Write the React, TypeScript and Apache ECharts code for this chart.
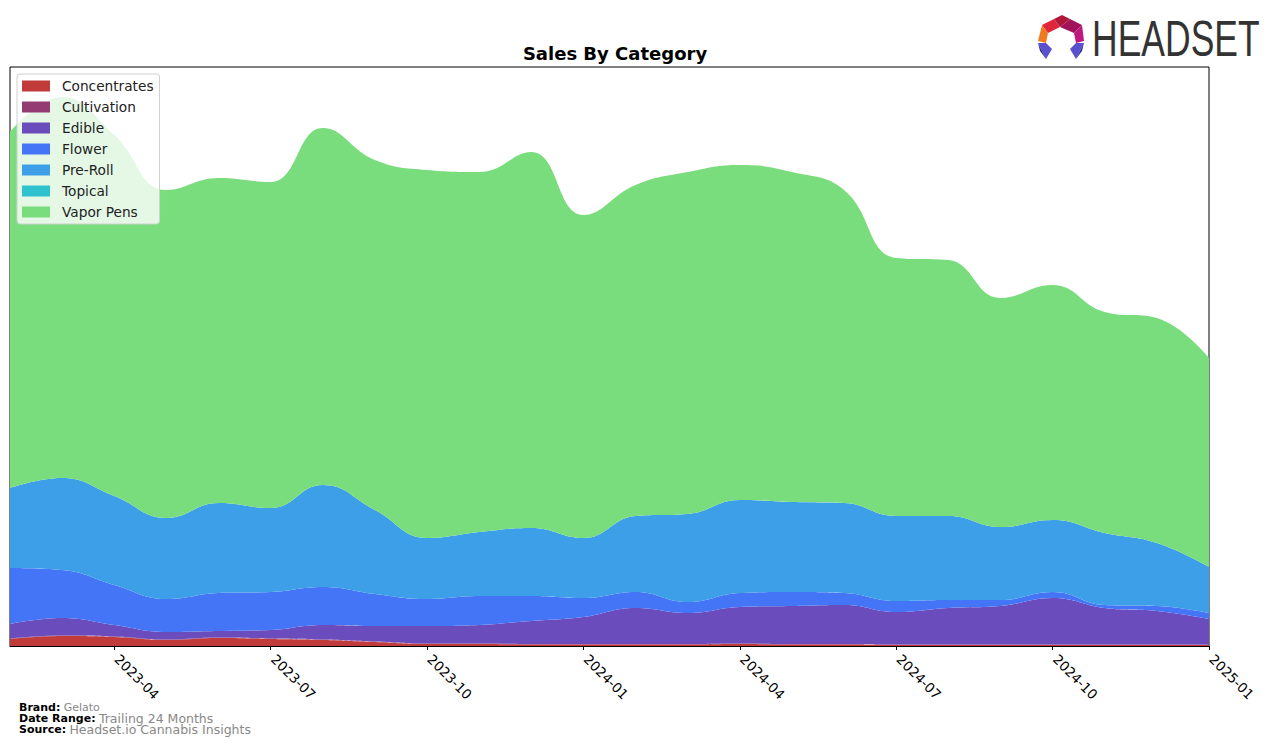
import React, { useEffect, useRef } from "react";
import * as echarts from "echarts";

const months = [
  "2023-02","2023-03","2023-04","2023-05","2023-06","2023-07","2023-08","2023-09",
  "2023-10","2023-11","2023-12","2024-01","2024-02","2024-03","2024-04","2024-05",
  "2024-06","2024-07","2024-08","2024-09","2024-10","2024-11","2024-12","2025-01",
];
const tickLabels = ["2023-04","2023-07","2023-10","2024-01","2024-04","2024-07","2024-10","2025-01"];

const concentrates = [7,10,9,6,8,7,6,4,2,2,1.5,1.5,1.5,1.5,2,1.5,1.5,1,1,1,1,1,1,1];
const cultivation = [0.5,0.5,0.5,0.5,0.5,0.5,0.5,0.5,0.5,0.5,0.5,0.5,0.5,0.5,0.5,0.5,0.5,0.5,0.5,0.5,0.5,0.5,0.5,0.5];
const edible = [14.5,17.5,11.5,7.5,6.5,8.5,14.5,15.5,17.5,18.5,23,27,36,31,36.5,38,39,32.5,36.5,38.5,46.5,36.5,33.5,25.5];
const flower = [56,48,40,33,38,38,38,32,27,29,25,19,16,11,14,14,12,11,8,6,6,3,5,6];
const preRoll = [80,92,89,81,90,84,102,84,61,64,68,60,76,88,93,90,90,85,84,73,72,72,63,46];
const topical = [0,0,0,0,0,0,0,0,0,0,0,0,0,0,0,0,0,0,0,0,0,0,0,0];
const vaporPens = [356,381,361,328,325,326,357,350,368,360,376,323,331,342,335,330,313,258,256,229,235,221,225,209];

const seriesDefs = [
  { name: "Concentrates", data: concentrates, color: "#C23B3B" },
  { name: "Cultivation", data: cultivation, color: "#953B74" },
  { name: "Edible", data: edible, color: "#6A4CBC" },
  { name: "Flower", data: flower, color: "#4575F7" },
  { name: "Pre-Roll", data: preRoll, color: "#3D9FE8" },
  { name: "Topical", data: topical, color: "#2FC3CF" },
  { name: "Vapor Pens", data: vaporPens, color: "#7ADD7D" },
];

export default function App() {
  const ref = useRef<HTMLDivElement>(null);
  useEffect(() => {
    if (!ref.current) return;
    const chart = echarts.init(ref.current, undefined, { renderer: "svg" });
    const isTick = (i: number) => tickLabels.indexOf(months[i]) >= 0;
    const richFoot = (valSize: number) => ({
      b: { fontFamily: "DejaVu Sans", fontWeight: "bold", fontSize: 11, fill: "#000", lineHeight: 11 },
      g: { fontFamily: "DejaVu Sans", fontSize: valSize, fill: "#888", lineHeight: 11 },
    });
    chart.setOption({
      animation: false,
      backgroundColor: "#ffffff",
      title: {
        text: "Sales By Category",
        left: 610,
        top: 39,
        textAlign: "center",
        textStyle: { fontFamily: "DejaVu Sans", fontWeight: "bold", fontSize: 18, color: "#000" },
      },
      legend: {
        orient: "vertical",
        left: 17,
        top: 74,
        padding: [4, 6, 4, 5],
        itemGap: 5,
        itemWidth: 28,
        itemHeight: 11,
        icon: "rect",
        backgroundColor: "rgba(255,255,255,0.8)",
        borderColor: "#d0d0d0",
        borderWidth: 1,
        borderRadius: 3,
        textStyle: { fontFamily: "DejaVu Sans", fontSize: 13.7, color: "#222", padding: [0, 0, 0, 7], lineHeight: 16 },
        data: seriesDefs.map((s) => s.name),
      },
      grid: {
        left: 10,
        right: 67,
        top: 67,
        bottom: 100,
        show: true,
        borderColor: "#000",
        borderWidth: 1,
        backgroundColor: "transparent",
        containLabel: false,
      },
      xAxis: {
        type: "category",
        data: months,
        boundaryGap: false,
        axisLine: { show: true, lineStyle: { color: "#000", width: 1 } },
        axisTick: { show: true, length: 4, lineStyle: { color: "#000" }, interval: (i: number) => isTick(i) },
        splitLine: { show: false },
        axisLabel: {
          interval: (i: number) => isTick(i),
          rotate: -45,
          fontFamily: "DejaVu Sans",
          fontSize: 13.5,
          color: "#000",
          margin: 8,
          padding: [0, 0, 0, 4],
        },
      },
      yAxis: {
        type: "value",
        min: 0,
        max: 579,
        show: false,
        splitLine: { show: false },
      },
      series: seriesDefs.map((s) => ({
        name: s.name,
        type: "line",
        stack: "total",
        smooth: 0.45,
        symbol: "none",
        color: s.color,
        lineStyle: { width: 0, color: s.color },
        areaStyle: { color: s.color, opacity: 1 },
        data: s.data,
      })),
      graphic: [
        {
          type: "text",
          left: 19,
          top: 701,
          style: { text: "{b|Brand:} {g|Gelato}", rich: richFoot(11) },
        },
        {
          type: "text",
          left: 19,
          top: 712,
          style: { text: "{b|Date Range:} {g|Trailing 24 Months}", rich: richFoot(12.5) },
        },
        {
          type: "text",
          left: 19,
          top: 723,
          style: { text: "{b|Source:} {g|Headset.io Cannabis Insights}", rich: richFoot(12.5) },
        },
        {
          type: "group",
          left: 1038,
          top: 15,
          children: [
            { type: "polygon", shape: { points: [[4, 10], [16, 4], [22, 12], [10, 18]] }, style: { fill: "#E0263A" } },
            { type: "polygon", shape: { points: [[16, 4], [24, 0], [32, 4], [22, 12]] }, style: { fill: "#B0183A" } },
            { type: "polygon", shape: { points: [[32, 4], [44, 10], [36, 18], [22, 12]] }, style: { fill: "#A0155A" } },
            { type: "polygon", shape: { points: [[44, 10], [46, 26], [38, 28], [36, 18]] }, style: { fill: "#C0167E" } },
            { type: "polygon", shape: { points: [[4, 10], [10, 18], [8, 28], [0, 26]] }, style: { fill: "#F07A20" } },
            { type: "polygon", shape: { points: [[0, 28], [8, 28], [14, 34], [8, 44]] }, style: { fill: "#5A4FCF" } },
            { type: "polygon", shape: { points: [[0, 28], [8, 44], [2, 36]] }, style: { fill: "#2C2F8A" } },
            { type: "polygon", shape: { points: [[46, 28], [38, 28], [32, 34], [38, 44]] }, style: { fill: "#5A4FCF" } },
            { type: "polygon", shape: { points: [[46, 28], [38, 44], [44, 36]] }, style: { fill: "#2C2F8A" } },
          ],
        },
        {
          type: "text",
          x: 1092,
          y: 14,
          scaleX: 0.71,
          style: {
            text: "HEADSET",
            fontFamily: "Liberation Sans",
            fontSize: 50,
            fill: "#333333",
          },
        },
      ],
    });
    return () => chart.dispose();
  }, []);
  return <div ref={ref} style={{ position: "fixed", left: 0, top: 0, width: 1276, height: 746 }} />;
}
